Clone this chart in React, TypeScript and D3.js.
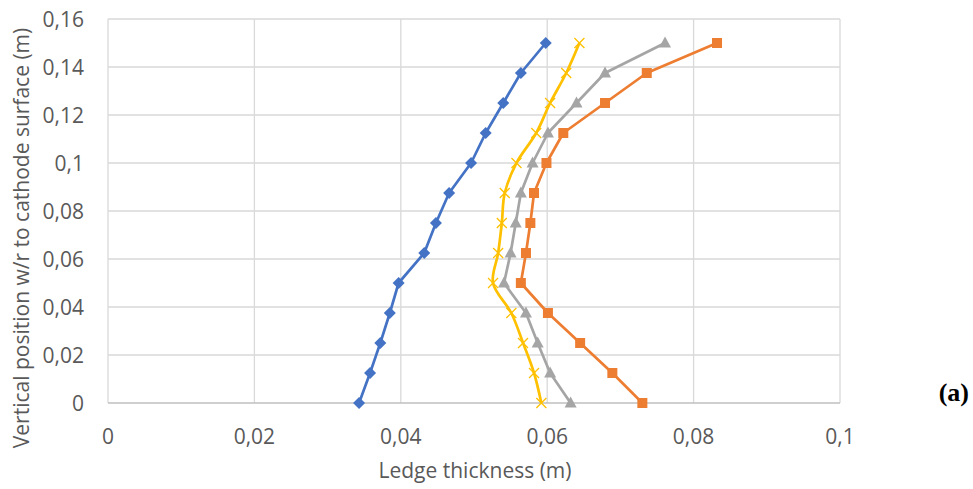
import { useEffect, useRef } from 'react';
import * as d3 from 'd3';

// vertical positions (m) shared by all four series
const heights = [0, 0.0125, 0.025, 0.0375, 0.05, 0.0625, 0.075, 0.0875, 0.1, 0.1125, 0.125, 0.1375, 0.15];

// ledge thickness (m)
const blueSeries = [0.0343, 0.0358, 0.0372, 0.0385, 0.0397, 0.0432, 0.0448, 0.0466, 0.0496, 0.0516, 0.054, 0.0564, 0.0598];
const orangeSeries = [0.073, 0.0689, 0.0645, 0.0601, 0.0564, 0.0571, 0.0577, 0.0582, 0.0599, 0.0622, 0.0679, 0.0736, 0.0832];
const graySeries = [0.0632, 0.0604, 0.0587, 0.0571, 0.0541, 0.055, 0.0557, 0.0564, 0.058, 0.0601, 0.064, 0.0679, 0.0761];
const yellowSeries = [0.0592, 0.0582, 0.0567, 0.0551, 0.0526, 0.0533, 0.0538, 0.0542, 0.0558, 0.0585, 0.0604, 0.0626, 0.0644];

const xTicks = [0, 0.02, 0.04, 0.06, 0.08, 0.1];
const yTicks = [0, 0.02, 0.04, 0.06, 0.08, 0.1, 0.12, 0.14, 0.16];

type Series = { name: string; values: number[]; color: string; marker: string; smooth: boolean };

const seriesList: Series[] = [
  { name: 'blue', values: blueSeries, color: '#4472C4', marker: 'diamond', smooth: false },
  { name: 'orange', values: orangeSeries, color: '#ED7D31', marker: 'square', smooth: false },
  { name: 'gray', values: graySeries, color: '#A5A5A5', marker: 'triangle', smooth: false },
  { name: 'yellow', values: yellowSeries, color: '#FFC000', marker: 'cross', smooth: true },
];

const FONT = '"Open Sans", sans-serif';
const fmt = (v: number) => String(v).replace('.', ',');

function drawChart(svgElement: SVGSVGElement) {
  const svg = d3.select(svgElement);
  svg.selectAll('*').remove();

  const width = 973;
  const height = 489;
  const margin = { top: 19, right: 133, bottom: 86, left: 108 };

  const x = d3.scaleLinear().domain([0, 0.1]).range([margin.left, width - margin.right]);
  const y = d3.scaleLinear().domain([0, 0.16]).range([height - margin.bottom, margin.top]);

  svg.attr('width', width).attr('height', height).attr('viewBox', `0 0 ${width} ${height}`);

  const grid = svg.append('g');
  grid
    .selectAll('line.h')
    .data(yTicks.slice(1))
    .join('line')
    .attr('x1', x(0))
    .attr('x2', x(0.1))
    .attr('y1', (d: number) => y(d))
    .attr('y2', (d: number) => y(d))
    .attr('stroke', '#D9D9D9')
    .attr('stroke-width', 1.3);
  grid
    .selectAll('line.v')
    .data(xTicks)
    .join('line')
    .attr('x1', (d: number) => x(d))
    .attr('x2', (d: number) => x(d))
    .attr('y1', y(0))
    .attr('y2', y(0.16))
    .attr('stroke', '#D9D9D9')
    .attr('stroke-width', 1.3);

  svg
    .append('line')
    .attr('x1', x(0))
    .attr('x2', x(0.1))
    .attr('y1', y(0))
    .attr('y2', y(0))
    .attr('stroke', '#BFBFBF')
    .attr('stroke-width', 1.3);

  svg
    .append('g')
    .selectAll('text')
    .data(xTicks)
    .join('text')
    .attr('x', (d: number) => x(d))
    .attr('y', 444)
    .attr('text-anchor', 'middle')
    .attr('font-family', FONT)
    .attr('font-size', 21)
    .attr('fill', '#595959')
    .text((d: number) => fmt(d));

  svg
    .append('g')
    .selectAll('text')
    .data(yTicks)
    .join('text')
    .attr('x', 84)
    .attr('y', (d: number) => y(d) + 7.5)
    .attr('text-anchor', 'end')
    .attr('font-family', FONT)
    .attr('font-size', 21)
    .attr('fill', '#595959')
    .text((d: number) => fmt(d));

  svg
    .append('text')
    .attr('x', 475)
    .attr('y', 478)
    .attr('text-anchor', 'middle')
    .attr('font-family', FONT)
    .attr('font-size', 21)
    .attr('fill', '#595959')
    .text('Ledge thickness (m)');

  svg
    .append('text')
    .attr('transform', 'rotate(-90)')
    .attr('x', -238)
    .attr('y', 29)
    .attr('text-anchor', 'middle')
    .attr('font-family', FONT)
    .attr('font-size', 21)
    .attr('fill', '#595959')
    .text('Vertical position w/r to cathode surface (m)');

  svg
    .append('text')
    .attr('x', 969)
    .attr('y', 401)
    .attr('text-anchor', 'end')
    .attr('font-family', '"Liberation Serif", serif')
    .attr('font-weight', 'bold')
    .attr('font-size', 26)
    .attr('fill', '#000')
    .text('(a)');

  for (const s of seriesList) {
    const pts: [number, number][] = s.values.map((v, i) => [v, heights[i]]);
    const line = d3
      .line<[number, number]>()
      .x((d) => x(d[0]))
      .y((d) => y(d[1]))
      .curve(s.smooth ? d3.curveCatmullRom.alpha(0.5) : d3.curveLinear);

    const g = svg.append('g');
    g.append('path')
      .attr('d', line(pts))
      .attr('fill', 'none')
      .attr('stroke', s.color)
      .attr('stroke-width', 2.7)
      .attr('stroke-linejoin', 'round');

    const markers = g
      .selectAll('g.m')
      .data(pts)
      .join('g')
      .attr('transform', (d: [number, number]) => `translate(${x(d[0])},${y(d[1])})`);

    if (s.marker === 'diamond') {
      markers.append('path').attr('d', 'M0,-6L6,0L0,6L-6,0Z').attr('fill', s.color);
    } else if (s.marker === 'square') {
      markers.append('rect').attr('x', -5).attr('y', -5).attr('width', 10).attr('height', 10).attr('fill', s.color);
    } else if (s.marker === 'triangle') {
      markers.append('path').attr('d', 'M0,-6.5L6,4.5L-6,4.5Z').attr('fill', s.color);
    } else {
      markers
        .append('path')
        .attr('d', 'M-5,-5L5,5M-5,5L5,-5')
        .attr('stroke', s.color)
        .attr('stroke-width', 1.3)
        .attr('fill', 'none');
    }
  }
}

export default function App() {
  const ref = useRef<SVGSVGElement>(null);

  useEffect(() => {
    if (ref.current) {
      drawChart(ref.current);
    }
  }, []);

  return (
    <div style={{ position: 'absolute', left: 0, top: 0, background: '#fff' }}>
      <svg ref={ref} style={{ display: 'block' }} />
    </div>
  );
}
